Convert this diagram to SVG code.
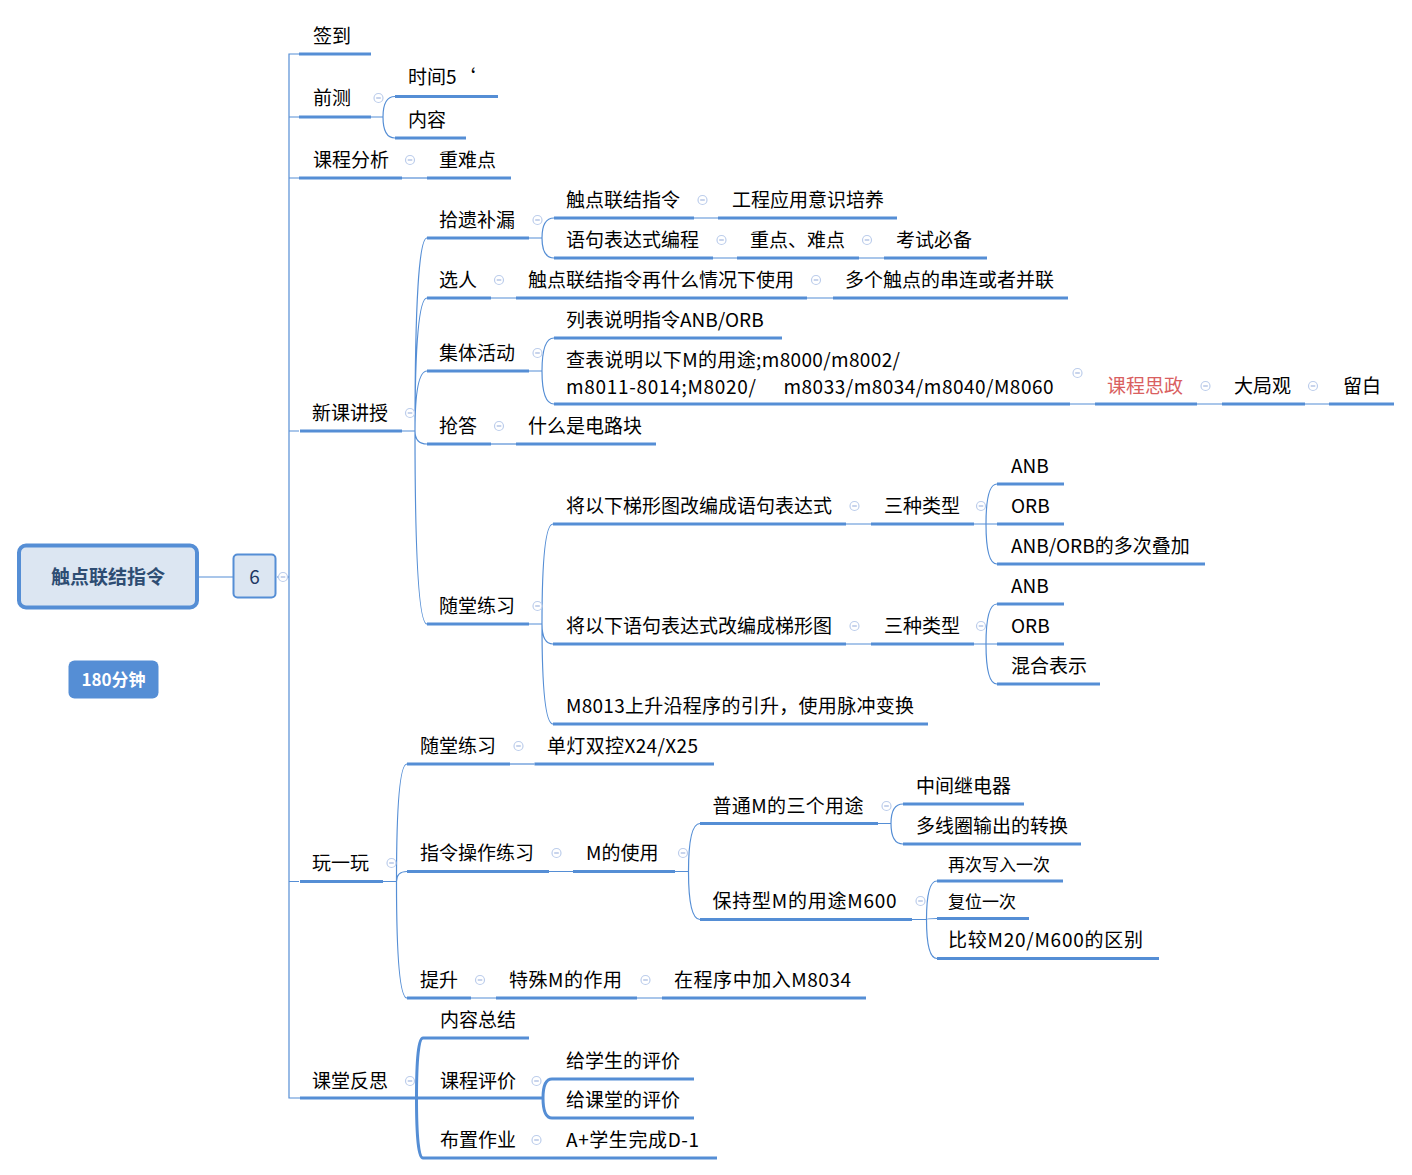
<svg xmlns="http://www.w3.org/2000/svg" xmlns:xlink="http://www.w3.org/1999/xlink" width="1412" height="1175" viewBox="0 0 1412 1175">
<style>
text{font-family:"Noto Sans CJK SC","Noto Sans",sans-serif;font-size:19px;fill:#000;dominant-baseline:central}
.s{font-size:17px}
.red{fill:#d9605f}
.u{stroke:#558ed5;stroke-width:3;fill:none}
.c{stroke:#558ed5;stroke-width:1.2;fill:none}
.ck{stroke:#558ed5;stroke-width:3;fill:none}
.root{font-weight:bold;fill:#2e4d73}
.badge{font-weight:bold;fill:#fff;font-size:17px}
</style>
<defs>
<g id="cl"><circle r="4.5" fill="#fff" stroke="#bccdeb" stroke-width="1.2"/><line x1="-2.3" y1="0" x2="2.3" y2="0" stroke="#a3b8df" stroke-width="1.2"/></g>
</defs>
<rect width="1412" height="1175" fill="#fff"/>

<g id="connectors">
<path class="c" d="M199 577H233M277 577H289"/>
<path class="c" d="M299 54H289V1098H300M289 117H299M289 178H299M289 431H299M289 881.5H299"/>
<path class="c" d="M371 117H383M383 117Q383 96.5 395 96.5M383 117Q383 138 395 138"/>
<path class="c" d="M402 178H427"/>
<path class="c" d="M402 431H415M415 431Q415 238 427 238M415 431Q415 298 427 298M415 431Q415 371 427 371M415 431Q415 444 427 444M415 431Q415 624 427 624"/>
<path class="c" d="M529 238H542M542 238Q542 218 554 218M542 238Q542 258 554 258"/>
<path class="c" d="M694 218H718M713 258H737M859 258H884"/>
<path class="c" d="M491 298H516M807 298H833"/>
<path class="c" d="M529 371H542M542 371Q542 338 554 338M542 371Q542 404 554 404"/>
<path class="c" d="M1070 404H1095M1197 404H1222M1305 404H1329"/>
<path class="c" d="M491 444H516"/>
<path class="c" d="M529 624H542M542 624Q542 524 553 524M542 624Q542 644 553 644M542 624Q542 724 553 724"/>
<path class="c" d="M846 524H871M974 524H997M986 524Q986 484 997 484M986 524Q986 564 997 564"/>
<path class="c" d="M846 644H871M974 644H997M986 644Q986 604 997 604M986 644Q986 684 997 684"/>
<path class="c" d="M383 881.5H396.5M396.5 881.5Q396.5 764 407 764M396.5 881.5Q396.5 871.5 407 871.5M396.5 881.5Q396.5 998 407 998"/>
<path class="c" d="M510 764H534.5"/>
<path class="c" d="M549 871.5H573M675 871.5H688.5M688.5 871.5Q688.5 823.5 700 823.5M688.5 871.5Q688.5 919.5 700 919.5"/>
<path class="c" d="M878 823.5H891M891 823.5Q891 804 903 804M891 823.5Q891 844 903 844"/>
<path class="c" d="M912 919.5H926.5M926.5 919.5Q926.5 881 937 881M926.5 919.5Q926.5 918.5 937 918.5M926.5 919.5Q926.5 958.5 937 958.5"/>
<path class="c" d="M471 998H496M637 998H662"/>
<path class="ck" d="M403 1098H423M416.5 1098Q416.5 1038 423 1038M416.5 1098Q416.5 1158 423 1158"/>
<path class="ck" d="M529 1098H543M543 1098Q543 1079 552 1079M543 1098Q543 1118 552 1118"/>
<path class="ck" d="M529 1158H553"/>
</g>

<g id="n-root"><rect x="19" y="545.5" width="178" height="62" rx="7" fill="#dce6f2" stroke="#558ed5" stroke-width="4"/><text class="root" x="108" y="575.5" text-anchor="middle">触点联结指令</text></g>
<g id="n-6"><rect x="233.5" y="554.5" width="42" height="43" rx="4" fill="#dce6f2" stroke="#558ed5" stroke-width="2"/><text x="254.5" y="575.5" text-anchor="middle" style="fill:#1f3864">6</text><use xlink:href="#cl" x="283" y="577"/></g>
<g id="n-180"><rect x="68.5" y="660.5" width="90" height="38" rx="6" fill="#558ed5"/><text class="badge" x="113.5" y="678.5" text-anchor="middle">180分钟</text></g>

<g id="n-qiandao"><line class="u" x1="299" y1="54" x2="371" y2="54"/><text x="313" y="34.5">签到</text></g>
<g id="n-qiance"><line class="u" x1="299" y1="117" x2="371" y2="117"/><text x="313" y="96.5">前测</text><use xlink:href="#cl" x="378.5" y="98"/></g>
<g id="n-shijian"><line class="u" x1="395" y1="96.5" x2="498" y2="96.5"/><text x="408" y="75.5">时间5‘</text></g>
<g id="n-neirong"><line class="u" x1="395" y1="138" x2="466" y2="138"/><text x="408" y="118.5">内容</text></g>
<g id="n-kcfx"><line class="u" x1="299" y1="178" x2="402" y2="178"/><text x="313" y="158.5">课程分析</text><use xlink:href="#cl" x="410" y="160"/></g>
<g id="n-znd"><line class="u" x1="427" y1="178" x2="511" y2="178"/><text x="439" y="158.5">重难点</text></g>

<g id="n-xkjs"><line class="u" x1="300" y1="431" x2="402" y2="431"/><text x="312" y="411.5">新课讲授</text><use xlink:href="#cl" x="410" y="413"/></g>
<g id="n-sybl"><line class="u" x1="427" y1="238" x2="529" y2="238"/><text x="439" y="218.5">拾遗补漏</text><use xlink:href="#cl" x="537.5" y="220"/></g>
<g id="n-cdl1"><line class="u" x1="554" y1="218" x2="694" y2="218"/><text x="566" y="198.5">触点联结指令</text><use xlink:href="#cl" x="702.5" y="200"/></g>
<g id="n-gcyy"><line class="u" x1="718" y1="218" x2="897" y2="218"/><text x="732" y="198.5">工程应用意识培养</text></g>
<g id="n-yjbd"><line class="u" x1="554" y1="258" x2="713" y2="258"/><text x="566" y="238.5">语句表达式编程</text><use xlink:href="#cl" x="721.5" y="240"/></g>
<g id="n-zdnd"><line class="u" x1="737" y1="258" x2="859" y2="258"/><text x="750" y="238.5">重点、难点</text><use xlink:href="#cl" x="867" y="240"/></g>
<g id="n-kshb"><line class="u" x1="884" y1="258" x2="987" y2="258"/><text x="896" y="238.5">考试必备</text></g>
<g id="n-xr"><line class="u" x1="427" y1="298" x2="491" y2="298"/><text x="439" y="278.5">选人</text><use xlink:href="#cl" x="499" y="280"/></g>
<g id="n-cdzz"><line class="u" x1="516" y1="298" x2="807" y2="298"/><text x="528" y="278.5">触点联结指令再什么情况下使用</text><use xlink:href="#cl" x="816" y="280"/></g>
<g id="n-dgcd"><line class="u" x1="833" y1="298" x2="1068" y2="298"/><text x="845" y="278.5">多个触点的串连或者并联</text></g>
<g id="n-jthd"><line class="u" x1="427" y1="371" x2="529" y2="371"/><text x="439" y="351.5">集体活动</text><use xlink:href="#cl" x="537.5" y="353"/></g>
<g id="n-lbsm"><line class="u" x1="554" y1="338" x2="782" y2="338"/><text x="566" y="318.5">列表说明指令ANB/ORB</text></g>
<g id="n-cbsm"><line class="u" x1="554" y1="404" x2="1070" y2="404"/><text x="566" y="358.5" textLength="334">查表说明以下M的用途;m8000/m8002/</text><text y="385"><tspan x="566" textLength="190">m8011-8014;M8020/</tspan><tspan x="783.5" textLength="270">m8033/m8034/m8040/M8060</tspan></text><use xlink:href="#cl" x="1077.5" y="373"/></g>
<g id="n-kcsz"><line class="u" x1="1095" y1="404" x2="1197" y2="404"/><text class="red" x="1107" y="384.5">课程思政</text><use xlink:href="#cl" x="1205.5" y="386"/></g>
<g id="n-djg"><line class="u" x1="1222" y1="404" x2="1305" y2="404"/><text x="1234" y="384.5">大局观</text><use xlink:href="#cl" x="1313" y="386"/></g>
<g id="n-lb"><line class="u" x1="1329" y1="404" x2="1394" y2="404"/><text x="1343" y="384.5">留白</text></g>
<g id="n-qd"><line class="u" x1="427" y1="444" x2="491" y2="444"/><text x="439" y="424.5">抢答</text><use xlink:href="#cl" x="499" y="426"/></g>
<g id="n-smsdlk"><line class="u" x1="516" y1="444" x2="656" y2="444"/><text x="528" y="424.5">什么是电路块</text></g>
<g id="n-stlx1"><line class="u" x1="427" y1="624" x2="529" y2="624"/><text x="439" y="604.5">随堂练习</text><use xlink:href="#cl" x="537.5" y="606"/></g>
<g id="n-jyx1"><line class="u" x1="553" y1="524" x2="846" y2="524"/><text x="566" y="504.5">将以下梯形图改编成语句表达式</text><use xlink:href="#cl" x="854.5" y="506"/></g>
<g id="n-szlx1"><line class="u" x1="871" y1="524" x2="974" y2="524"/><text x="884" y="504.5">三种类型</text><use xlink:href="#cl" x="981" y="506"/></g>
<g id="n-anb1"><line class="u" x1="997" y1="484" x2="1064" y2="484"/><text x="1011" y="464.5">ANB</text></g>
<g id="n-orb1"><line class="u" x1="997" y1="524" x2="1064" y2="524"/><text x="1011" y="504.5">ORB</text></g>
<g id="n-anborb"><line class="u" x1="997" y1="564" x2="1205" y2="564"/><text x="1011" y="544.5">ANB/ORB的多次叠加</text></g>
<g id="n-jyx2"><line class="u" x1="553" y1="644" x2="846" y2="644"/><text x="566" y="624.5">将以下语句表达式改编成梯形图</text><use xlink:href="#cl" x="854.5" y="626"/></g>
<g id="n-szlx2"><line class="u" x1="871" y1="644" x2="974" y2="644"/><text x="884" y="624.5">三种类型</text><use xlink:href="#cl" x="981" y="626"/></g>
<g id="n-anb2"><line class="u" x1="997" y1="604" x2="1064" y2="604"/><text x="1011" y="584.5">ANB</text></g>
<g id="n-orb2"><line class="u" x1="997" y1="644" x2="1064" y2="644"/><text x="1011" y="624.5">ORB</text></g>
<g id="n-hhbs"><line class="u" x1="997" y1="684" x2="1100" y2="684"/><text x="1011" y="664.5">混合表示</text></g>
<g id="n-m8013"><line class="u" x1="553" y1="724" x2="928" y2="724"/><text x="566" y="704.5" textLength="348">M8013上升沿程序的引升，使用脉冲变换</text></g>

<g id="n-wyw"><line class="u" x1="300" y1="881.5" x2="383" y2="881.5"/><text x="312" y="861.5">玩一玩</text><use xlink:href="#cl" x="391.5" y="863"/></g>
<g id="n-stlx2"><line class="u" x1="407" y1="764" x2="510" y2="764"/><text x="420" y="744.5">随堂练习</text><use xlink:href="#cl" x="518.5" y="746"/></g>
<g id="n-ddsk"><line class="u" x1="534.5" y1="764" x2="714" y2="764"/><text x="547" y="744.5" textLength="151">单灯双控X24/X25</text></g>
<g id="n-zlcz"><line class="u" x1="407" y1="871.5" x2="549" y2="871.5"/><text x="420" y="851.5">指令操作练习</text><use xlink:href="#cl" x="556.5" y="853"/></g>
<g id="n-mdsy"><line class="u" x1="573" y1="871.5" x2="675" y2="871.5"/><text x="586" y="851.5">M的使用</text><use xlink:href="#cl" x="683" y="853"/></g>
<g id="n-ptm"><line class="u" x1="700" y1="823.5" x2="878" y2="823.5"/><text x="712.5" y="804.5" textLength="151">普通M的三个用途</text><use xlink:href="#cl" x="886.5" y="806"/></g>
<g id="n-zjjdq"><line class="u" x1="903" y1="804" x2="1024" y2="804"/><text x="916" y="784.5">中间继电器</text></g>
<g id="n-dxq"><line class="u" x1="903" y1="844" x2="1081" y2="844"/><text x="916" y="824.5">多线圈输出的转换</text></g>
<g id="n-bcx"><line class="u" x1="700" y1="919.5" x2="912" y2="919.5"/><text x="712.5" y="899.5" textLength="184">保持型M的用途M600</text><use xlink:href="#cl" x="920.5" y="901"/></g>
<g id="n-zcxr"><line class="u" x1="937" y1="881" x2="1063" y2="881"/><text class="s" x="948" y="863.5">再次写入一次</text></g>
<g id="n-fwyc"><line class="u" x1="937" y1="918.5" x2="1029" y2="918.5"/><text class="s" x="948" y="900.5">复位一次</text></g>
<g id="n-bjm20"><line class="u" x1="937" y1="958.5" x2="1159" y2="958.5"/><text x="948" y="938.5" textLength="195">比较M20/M600的区别</text></g>
<g id="n-ts"><line class="u" x1="407" y1="998" x2="471" y2="998"/><text x="420" y="978.5">提升</text><use xlink:href="#cl" x="480" y="980"/></g>
<g id="n-tsm"><line class="u" x1="496" y1="998" x2="637" y2="998"/><text x="509" y="978.5" textLength="113">特殊M的作用</text><use xlink:href="#cl" x="645.5" y="980"/></g>
<g id="n-zcxz"><line class="u" x1="662" y1="998" x2="866" y2="998"/><text x="674" y="978.5" textLength="177">在程序中加入M8034</text></g>

<g id="n-ktfs"><line class="u" x1="300" y1="1098" x2="403" y2="1098"/><text x="312" y="1079.5">课堂反思</text><use xlink:href="#cl" x="410" y="1081"/></g>
<g id="n-nrzj"><line class="u" x1="423" y1="1038" x2="529" y2="1038"/><text x="440" y="1018.5">内容总结</text></g>
<g id="n-kcpj"><line class="u" x1="423" y1="1098" x2="529" y2="1098"/><text x="440" y="1079.5">课程评价</text><use xlink:href="#cl" x="536.5" y="1081"/></g>
<g id="n-gxs"><line class="u" x1="552" y1="1079" x2="694" y2="1079"/><text x="566" y="1059.5">给学生的评价</text></g>
<g id="n-gkt"><line class="u" x1="552" y1="1118" x2="694" y2="1118"/><text x="566" y="1098.5">给课堂的评价</text></g>
<g id="n-bzzy"><line class="u" x1="423" y1="1158" x2="529" y2="1158"/><text x="440" y="1138.5">布置作业</text><use xlink:href="#cl" x="536.5" y="1140"/></g>
<g id="n-ajs"><line class="u" x1="553" y1="1158" x2="717" y2="1158"/><text x="566" y="1138.5" textLength="133">A+学生完成D-1</text></g>
</svg>
